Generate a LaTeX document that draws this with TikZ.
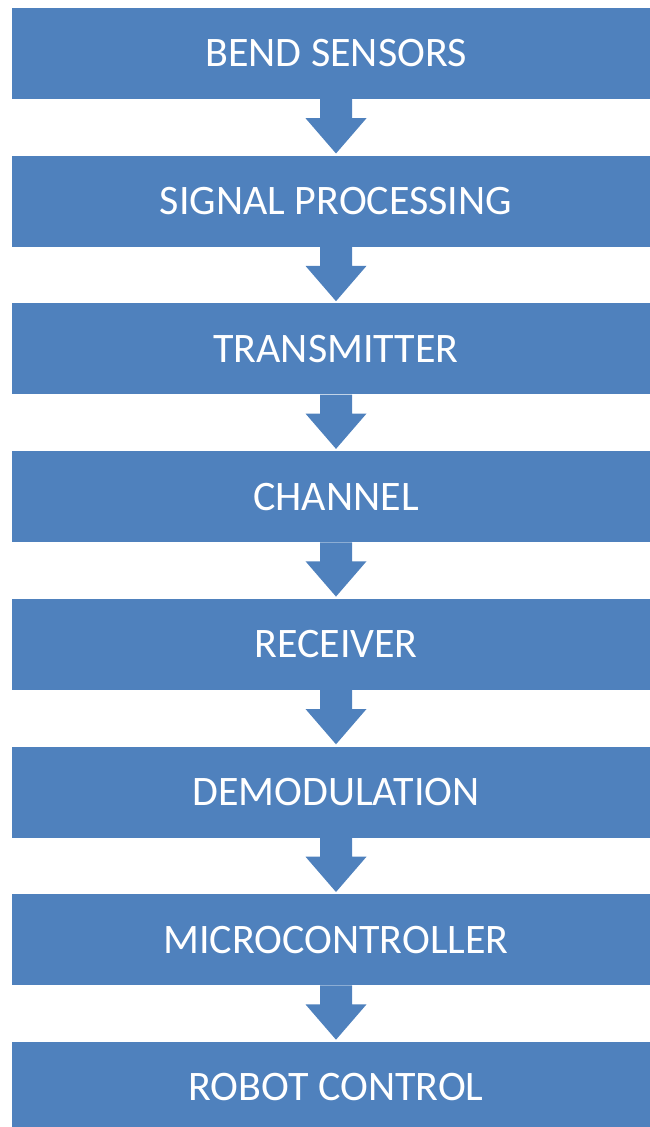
\documentclass[tikz,border=0pt]{standalone}
\usepackage{fontspec}
\setmainfont{Carlito}
\usetikzlibrary{positioning}

\def\boxW{648pt}
\def\boxH{91pt}
\def\boxgap{56.3pt}
\definecolor{stageblue}{RGB}{79,129,189}

\tikzset{
  stagebox/.style={fill=stageblue,text=white,minimum width=\boxW,minimum height=\boxH,
    inner sep=0pt,font=\fontsize{42}{50}\selectfont},
  flowarrow/.style={fill=stageblue}
}

\begin{document}
\begin{tikzpicture}
  \useasboundingbox (0,0) rectangle (649pt,-1127pt);
  \node[stagebox] (b1) at (336pt,-53.5pt) {BEND SENSORS};
  \foreach \lbl [count=\n from 2, evaluate=\n as \p using int(\n-1)] in
      {SIGNAL PROCESSING,TRANSMITTER,CHANNEL,RECEIVER,DEMODULATION,MICROCONTROLLER,ROBOT CONTROL} {
    \node[stagebox,below=\boxgap of b\p] (b\n) {\lbl};
    % block arrow from one stage to the next
    \fill[flowarrow] ([xshift=-16pt]b\p.south) -- ([xshift=16pt]b\p.south) -- ++(0,-19pt)
      -- ++(14.5pt,0) -- ([yshift=2pt]b\n.north) -- ([xshift=-30.5pt,yshift=-19pt]b\p.south)
      -- ++(14.5pt,0) -- cycle;
  }
\end{tikzpicture}
\end{document}
